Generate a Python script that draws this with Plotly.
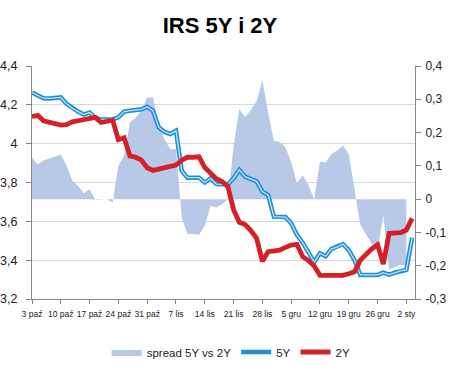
import plotly.graph_objects as go

# Business days (categories on the x axis)
dates = [
    "2011-10-03", "2011-10-04", "2011-10-05", "2011-10-06", "2011-10-07",
    "2011-10-10", "2011-10-11", "2011-10-12", "2011-10-13", "2011-10-14",
    "2011-10-17", "2011-10-18", "2011-10-19", "2011-10-20", "2011-10-21",
    "2011-10-24", "2011-10-25", "2011-10-26", "2011-10-27", "2011-10-28",
    "2011-10-31", "2011-11-01", "2011-11-02", "2011-11-03", "2011-11-04",
    "2011-11-07", "2011-11-08", "2011-11-09", "2011-11-10", "2011-11-11",
    "2011-11-14", "2011-11-15", "2011-11-16", "2011-11-17", "2011-11-18",
    "2011-11-21", "2011-11-22", "2011-11-23", "2011-11-24", "2011-11-25",
    "2011-11-28", "2011-11-29", "2011-11-30", "2011-12-01", "2011-12-02",
    "2011-12-05", "2011-12-06", "2011-12-07", "2011-12-08", "2011-12-09",
    "2011-12-12", "2011-12-13", "2011-12-14", "2011-12-15", "2011-12-16",
    "2011-12-19", "2011-12-20", "2011-12-21", "2011-12-22", "2011-12-23",
    "2011-12-26", "2011-12-27", "2011-12-28", "2011-12-29", "2011-12-30",
    "2012-01-02", "2012-01-03",
]

irs_5y = [
    4.263, 4.250, 4.234, 4.233, 4.234, 4.238, 4.205, 4.182, 4.165, 4.150,
    4.160, 4.133, 4.125, 4.125, 4.125, 4.136, 4.165, 4.170, 4.173, 4.177,
    4.190, 4.170, 4.085, 4.060, 4.050, 4.066, 3.860, 3.825, 3.825, 3.825,
    3.800, 3.821, 3.792, 3.790, 3.790, 3.822, 3.865, 3.830, 3.820, 3.806,
    3.753, 3.736, 3.624, 3.624, 3.622, 3.590, 3.530, 3.490, 3.440, 3.390,
    3.435, 3.420, 3.458, 3.468, 3.483, 3.452, 3.400, 3.324, 3.324, 3.324,
    3.324, 3.336, 3.326, 3.335, 3.345, 3.350, 3.516,
]

irs_2y = [
    4.139, 4.146, 4.118, 4.112, 4.106, 4.096, 4.098, 4.112, 4.118, 4.124,
    4.130, 4.135, 4.109, 4.117, 4.121, 4.020, 4.030, 3.937, 3.930, 3.915,
    3.876, 3.862, 3.870, 3.878, 3.880, 3.890, 3.915, 3.930, 3.930, 3.932,
    3.877, 3.845, 3.820, 3.805, 3.780, 3.660, 3.595, 3.583, 3.552, 3.512,
    3.394, 3.444, 3.448, 3.452, 3.466, 3.478, 3.482, 3.418, 3.398, 3.370,
    3.322, 3.322, 3.322, 3.322, 3.322, 3.330, 3.340, 3.400, 3.430, 3.458,
    3.480, 3.380, 3.538, 3.540, 3.542, 3.555, 3.615,
]

spread = [
    0.124, 0.104, 0.116, 0.121, 0.128, 0.135, 0.100, 0.055, 0.040, 0.018,
    0.030, -0.002, 0.000, 0.000, -0.010, 0.100, 0.130, 0.230, 0.245, 0.265,
    0.305, 0.305, 0.220, 0.180, 0.150, 0.150, -0.055, -0.105, -0.105, -0.107,
    -0.080, -0.020, -0.025, -0.015, 0.000, 0.160, 0.270, 0.247, 0.268, 0.294,
    0.358, 0.260, 0.176, 0.172, 0.156, 0.112, 0.048, 0.072, 0.042, 0.000,
    0.113, 0.110, 0.136, 0.146, 0.161, 0.135, 0.030, -0.076, -0.106, -0.134,
    -0.156, -0.048, -0.212, -0.205, -0.197, -0.200,
]

x_tickvals = ["2011-10-03", "2011-10-10", "2011-10-17", "2011-10-24", "2011-10-31",
              "2011-11-07", "2011-11-14", "2011-11-21", "2011-11-28", "2011-12-05",
              "2011-12-12", "2011-12-19", "2011-12-26", "2012-01-02"]
x_ticktext = ["3 paź", "10 paź", "17 paź", "24 paź", "31 paź", "7 lis", "14 lis",
              "21 lis", "28 lis", "5 gru", "12 gru", "19 gru", "26 gru", "2 sty"]

left_tickvals = [3.2, 3.4, 3.6, 3.8, 4.0, 4.2, 4.4]
left_ticktext = ["3,2", "3,4", "3,6", "3,8", "4", "4,2", "4,4"]
right_tickvals = [-0.3, -0.2, -0.1, 0.0, 0.1, 0.2, 0.3, 0.4]
right_ticktext = ["-0,3", "-0,2", "-0,1", "0", "0,1", "0,2", "0,3", "0,4"]

FONT = "Liberation Sans, Arial, sans-serif"
AXIS = "#868686"
AREA = "#B8C9E8"
BLUE = "#1F8ED6"
BLUE_IN = "#BFE3F8"
RED = "#D42026"

fig = go.Figure()
fig.add_trace(go.Scatter(
    x=dates[:len(spread)], y=spread, yaxis="y", mode="lines", fill="tozeroy",
    fillcolor=AREA, line=dict(width=0, color=AREA), name="spread 5Y vs 2Y",
))
fig.add_trace(go.Scatter(
    x=dates, y=irs_5y, yaxis="y2", mode="lines", name="5Y", legendgroup="5y",
    line=dict(color=BLUE, width=4.5),
))
fig.add_trace(go.Scatter(
    x=dates, y=irs_5y, yaxis="y2", mode="lines", name="5Y", legendgroup="5y",
    showlegend=False, line=dict(color=BLUE_IN, width=1.3),
))
fig.add_trace(go.Scatter(
    x=dates, y=irs_2y, yaxis="y2", mode="lines", name="2Y",
    line=dict(color=RED, width=4.8),
))

fig.update_layout(
    width=452, height=365,
    margin=dict(l=32, r=37, t=66, b=66, autoexpand=False),
    paper_bgcolor="white", plot_bgcolor="white",
    font=dict(family=FONT, size=12, color="#222"),
    title=dict(text="IRS 5Y i 2Y", x=220 / 452, xref="container", xanchor="center",
               y=1 - 25 / 365, yref="container", yanchor="middle",
               font=dict(family=FONT, size=22, color="black", weight="bold")),
    showlegend=True,
    legend=dict(orientation="h", x=0.52, xanchor="center",
                y=1 - 352 / 365, yref="container", yanchor="middle",
                font=dict(family=FONT, size=11.5, color="#222"),
                itemwidth=30, tracegroupgap=0, bgcolor="rgba(0,0,0,0)"),
    xaxis=dict(type="category", range=[0, 66.5], tickmode="array",
               tickvals=x_tickvals, ticktext=x_ticktext, tickangle=0,
               ticks="outside", ticklen=4, tickcolor=AXIS, showline=True,
               linecolor=AXIS, linewidth=1, showgrid=False, zeroline=False,
               ticklabelstandoff=3,
               tickfont=dict(family=FONT, size=8.5, color="#222")),
    yaxis=dict(side="right", range=[-0.3, 0.4], tickmode="array",
               tickvals=right_tickvals, ticktext=right_ticktext,
               ticks="outside", ticklen=5, tickcolor=AXIS, showline=True,
               linecolor=AXIS, showgrid=False, zeroline=False,
               ticklabelstandoff=2,
               tickfont=dict(family=FONT, size=12, color="#222")),
    yaxis2=dict(side="left", overlaying="y", range=[3.2, 4.4], tickmode="array",
                tickvals=left_tickvals, ticktext=left_ticktext,
                ticks="outside", ticklen=5, tickcolor=AXIS, showline=True,
                linecolor=AXIS, showgrid=True, gridcolor="#D9D9D9", gridwidth=1,
                zeroline=False, ticklabelstandoff=6,
                tickfont=dict(family=FONT, size=12.5, color="#222")),
)

fig.write_html(
    "out.html",
    config={"displayModeBar": False},
    post_script="document.body.style.margin='0';document.body.style.overflow='hidden';",
)
